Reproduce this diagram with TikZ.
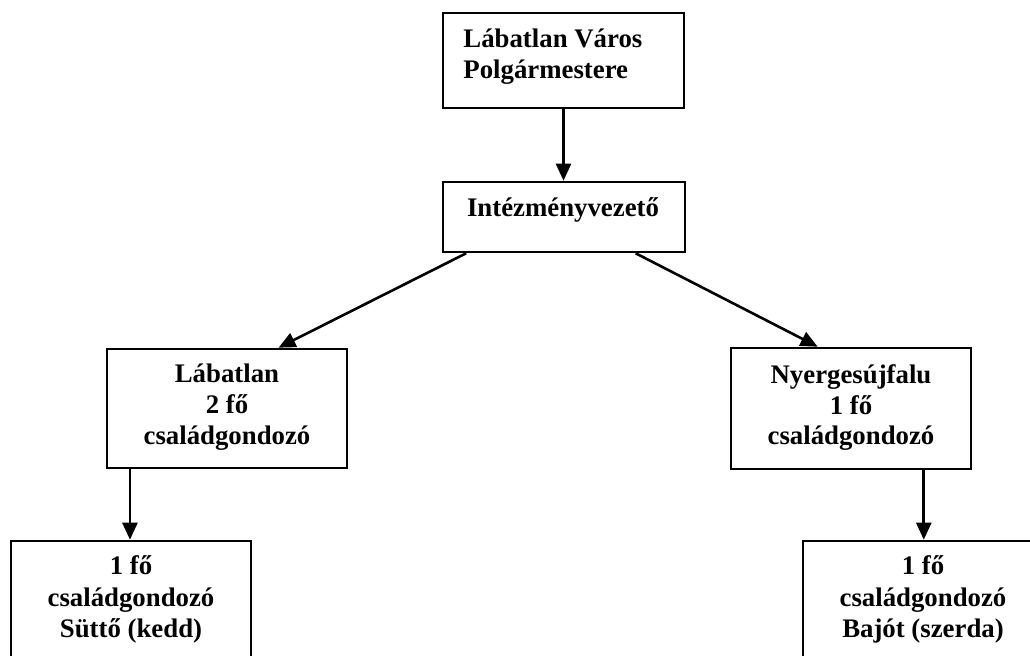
\documentclass[tikz,border=0pt]{standalone}
\usepackage{fontspec}
\setmainfont{Liberation Serif}
\usetikzlibrary{arrows.meta,calc}
\tikzset{
  box/.style={draw=black, line width=1.3pt, rectangle, inner sep=0pt},
  txt/.style={font=\bfseries\fontsize{13.4}{15.5}\selectfont, inner sep=0pt, anchor=base},
  conn/.style={line width=1.3pt, -{Triangle[length=8.5pt,width=7.5pt]}}
}
\begin{document}
\begin{tikzpicture}[x=0.5pt,y=-0.5pt]
\clip (0,0) rectangle (1030,656);
\fill[white] (0,0) rectangle (1030,656);
% boxes
\node[box, minimum width=120.5pt, minimum height=47.5pt] (P) at (563.5,60.5) {};
\node[box, minimum width=121pt, minimum height=35pt] (I) at (564,217) {};
\node[box, minimum width=120pt, minimum height=59.5pt] (L) at (227,408.5) {};
\node[box, minimum width=120pt, minimum height=60.5pt] (N) at (851,408.5) {};
\node[box, minimum width=120pt, minimum height=70pt] (S) at (131,611) {};
\node[box, minimum width=120pt, minimum height=70pt] (B) at (923,611) {};
% texts
\node[txt, anchor=base west] (P1) at (463,48) {Lábatlan Város};
\node[txt, anchor=base west] (P2) at (463,79) {Polgármestere};
\node[txt] (I1) at (563,217) {Intézményvezető};
\node[txt] (L1) at (227,383) {Lábatlan};
\node[txt] (L2) at (227,414) {2 fő};
\node[txt] (L3) at (227,445) {családgondozó};
\node[txt] (N1) at (851,384) {Nyergesújfalu};
\node[txt] (N2) at (851,415) {1 fő};
\node[txt] (N3) at (851,445) {családgondozó};
\node[txt] (S1) at (131,575) {1 fő};
\node[txt] (S2) at (131,607) {családgondozó};
\node[txt] (S3) at (131,638) {Süttő (kedd)};
\node[txt] (B1) at (923,575) {1 fő};
\node[txt] (B2) at (923,607) {családgondozó};
\node[txt] (B3) at (923,638) {Bajót (szerda)};
% connector end points
\coordinate (Ia) at ($(I.south west)!0.1!(I.south east)$);
\coordinate (Ib) at ($(I.south west)!0.793!(I.south east)$);
\coordinate (La) at ($(L.north west)!0.7125!(L.north east)$);
\coordinate (Na) at ($(N.north west)!0.3625!(N.north east)$);
\coordinate (Lb) at ($(L.south west)!0.1!(L.south east)$);
\coordinate (Nb) at ($(N.south west)!0.8!(N.south east)$);
% connectors
\draw[conn] (P.south) -- (P.south |- I.north);
\draw[conn] (Ia) -- (La);
\draw[conn] (Ib) -- (Na);
\draw[conn] (Lb) -- (Lb |- S.north);
\draw[conn] (Nb) -- (Nb |- B.north);
\end{tikzpicture}
\end{document}
